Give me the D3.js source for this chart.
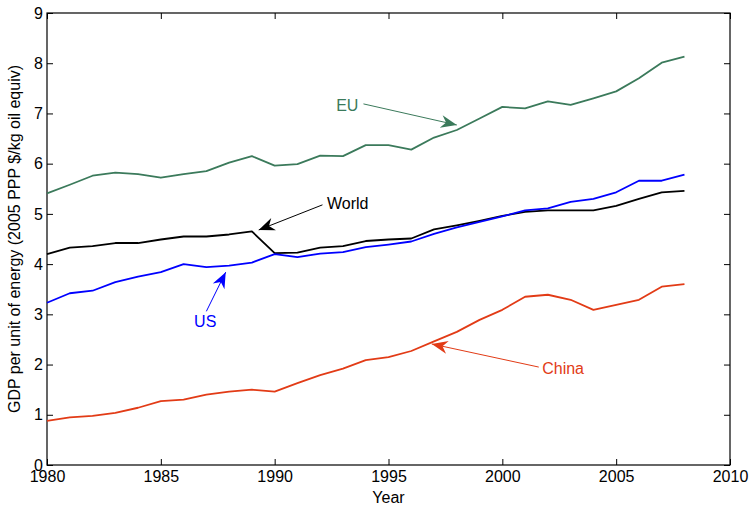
<!DOCTYPE html>
<html>
<head>
<meta charset="utf-8">
<script src="https://cdn.jsdelivr.net/npm/d3@7"></script>
<style>
  body { margin: 0; background: #fff; }
  svg { display: block; font-family: "Liberation Sans", Arial, sans-serif; }
  .axis text { font-size: 16px; fill: #000; }
  .axis line { stroke: #000; }
</style>
</head>
<body>
<script>
// data
var years = d3.range(1980, 2009);
var euValues = [5.41, 5.58, 5.76, 5.82, 5.79, 5.72, 5.79, 5.85, 6.02, 6.15,
	5.96, 5.99, 6.16, 6.15, 6.37, 6.37, 6.28, 6.52, 6.67, 6.90,
	7.13, 7.10, 7.24, 7.17, 7.30, 7.44, 7.70, 8.01, 8.13];
var worldValues = [4.20, 4.33, 4.36, 4.42, 4.42, 4.49, 4.55, 4.55, 4.59, 4.65,
	4.22, 4.23, 4.33, 4.36, 4.46, 4.49, 4.51, 4.69, 4.77, 4.86,
	4.96, 5.04, 5.07, 5.07, 5.07, 5.16, 5.30, 5.43, 5.46];
var usValues = [3.23, 3.42, 3.47, 3.64, 3.75, 3.84, 4.00, 3.94, 3.97, 4.03,
	4.20, 4.14, 4.21, 4.24, 4.34, 4.39, 4.45, 4.60, 4.73, 4.84,
	4.95, 5.07, 5.11, 5.24, 5.30, 5.43, 5.66, 5.66, 5.78];
var chinaValues = [0.88, 0.95, 0.98, 1.04, 1.14, 1.27, 1.30, 1.40, 1.46, 1.50,
	1.46, 1.63, 1.79, 1.92, 2.09, 2.15, 2.27, 2.46, 2.65, 2.89,
	3.09, 3.35, 3.39, 3.29, 3.09, 3.19, 3.29, 3.55, 3.60];
var xTicks = [1980, 1985, 1990, 1995, 2000, 2005, 2010];
var yTicks = [0, 1, 2, 3, 4, 5, 6, 7, 8, 9];

var series = [
	{ name: 'EU', values: euValues, color: '#3b7a5b' },
	{ name: 'World', values: worldValues, color: '#000000' },
	{ name: 'US', values: usValues, color: '#0000ff' },
	{ name: 'China', values: chinaValues, color: '#e23b16' }
];

// annotation: label anchor, arrow tail and tip, all in data units
var notes = [
	{ name: 'EU', color: '#3b7a5b', text: [1992.7, 7.17], anchor: 'start', tail: [1993.9, 7.19], tip: [1998.0, 6.77] },
	{ name: 'World', color: '#000000', text: [1992.3, 5.20], anchor: 'start', tail: [1992.1, 5.18], tip: [1989.3, 4.68] },
	{ name: 'US', color: '#0000ff', text: [1986.95, 2.85], anchor: 'middle', tail: [1987.0, 3.06], tip: [1987.85, 3.84] },
	{ name: 'China', color: '#e23b16', text: [2001.75, 1.93], anchor: 'start', tail: [2001.6, 1.95], tip: [1996.9, 2.41] }
];

var width = 751,
	height = 506,
	margin = { top: 13, right: 21, bottom: 41, left: 47 };

var svg = d3.select('body').append('svg')
	.attr('width', width)
	.attr('height', height);

var w = width - margin.left - margin.right,
	h = height - margin.top - margin.bottom;

var x = d3.scaleLinear().domain([1980, 2010]).range([0, w]),
	y = d3.scaleLinear().domain([0, 9]).range([h, 0]);

var g = svg.append('g')
	.attr('transform', 'translate(' + margin.left + ',' + margin.top + ')');

// axes, ticks pointing inward on all four sides
g.append('g')
	.attr('class', 'axis axis--x')
	.attr('transform', 'translate(0,' + h + ')')
	.call(d3.axisBottom(x).tickValues(xTicks).tickFormat(d3.format('d')).tickSizeInner(-6).tickSizeOuter(0).tickPadding(6));

g.append('g')
	.attr('class', 'axis axis--top')
	.call(d3.axisTop(x).tickValues(xTicks).tickFormat('').tickSizeInner(-6).tickSizeOuter(0));

g.append('g')
	.attr('class', 'axis axis--y')
	.call(d3.axisLeft(y).tickValues(yTicks).tickFormat(d3.format('d')).tickSizeInner(-6).tickSizeOuter(0).tickPadding(4));

g.append('g')
	.attr('class', 'axis axis--right')
	.attr('transform', 'translate(' + w + ',0)')
	.call(d3.axisRight(y).tickValues(yTicks).tickFormat('').tickSizeInner(-6).tickSizeOuter(0));

g.selectAll('.axis .domain').remove();

g.append('rect')
	.attr('width', w)
	.attr('height', h)
	.attr('fill', 'none')
	.attr('stroke', '#000')
	.attr('stroke-width', 1.2);

// lines
var line = d3.line()
	.x(function(d, i) { return x(years[i]); })
	.y(function(d) { return y(d); });

g.selectAll('.series')
	.data(series)
	.enter().append('path')
	.attr('class', 'series')
	.attr('fill', 'none')
	.attr('stroke', function(d) { return d.color; })
	.attr('stroke-width', 1.8)
	.attr('stroke-linejoin', 'round')
	.attr('d', function(d) { return line(d.values); });

// annotations with notched arrowheads
var ann = g.selectAll('.note')
	.data(notes)
	.enter().append('g')
	.attr('class', 'note');

ann.append('line')
	.attr('x1', function(d) { return x(d.tail[0]); })
	.attr('y1', function(d) { return y(d.tail[1]); })
	.attr('x2', function(d) { return x(d.tip[0]); })
	.attr('y2', function(d) { return y(d.tip[1]); })
	.attr('stroke', function(d) { return d.color; })
	.attr('stroke-width', 1);

ann.append('path')
	.attr('fill', function(d) { return d.color; })
	.attr('transform', function(d) {
		var x1 = x(d.tail[0]), y1 = y(d.tail[1]), x2 = x(d.tip[0]), y2 = y(d.tip[1]);
		var a = Math.atan2(y2 - y1, x2 - x1) * 180 / Math.PI;
		return 'translate(' + x2 + ',' + y2 + ') rotate(' + a + ')';
	})
	.attr('d', 'M0,0 L-16,-6.5 L-11,0 L-16,6.5 Z');

ann.append('text')
	.attr('x', function(d) { return x(d.text[0]); })
	.attr('y', function(d) { return y(d.text[1]); })
	.attr('dy', '0.35em')
	.attr('text-anchor', function(d) { return d.anchor; })
	.attr('fill', function(d) { return d.color; })
	.style('font-size', '16px')
	.text(function(d) { return d.name; });

// axis titles
g.append('text')
	.attr('x', w / 2)
	.attr('y', h + 38)
	.attr('text-anchor', 'middle')
	.style('font-size', '16px')
	.text('Year');

g.append('text')
	.attr('transform', 'translate(' + (-27) + ',' + (h / 2) + ') rotate(-90)')
	.attr('text-anchor', 'middle')
	.style('font-size', '16px')
	.text('GDP per unit of energy (2005 PPP $/kg oil equiv)');
</script>
</body>
</html>
